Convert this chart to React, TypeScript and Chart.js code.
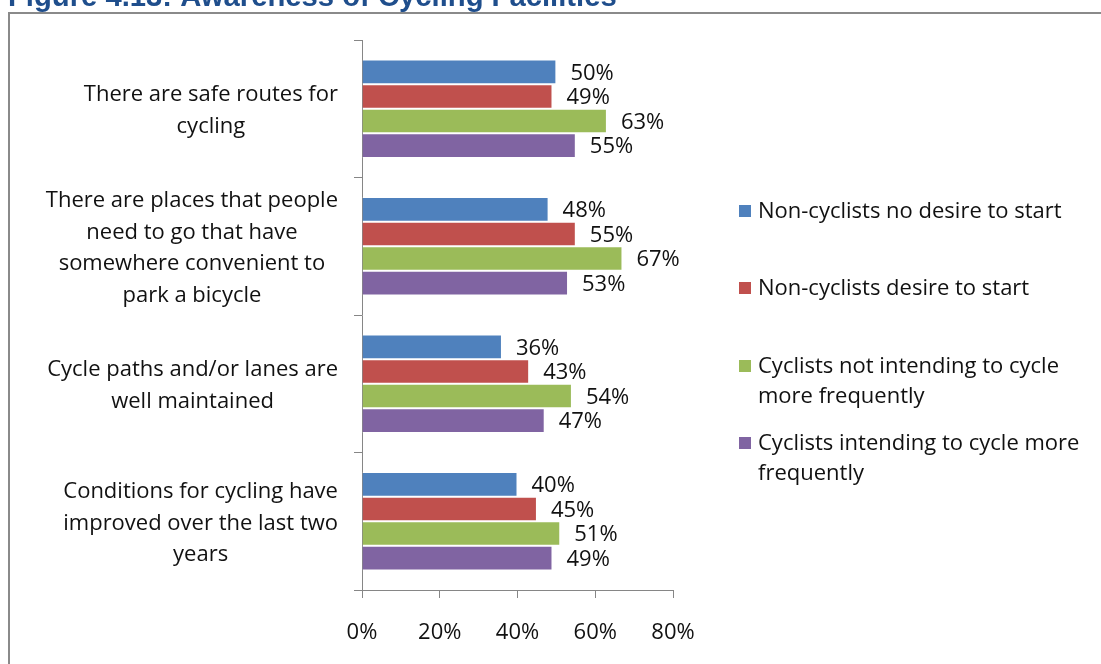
import React, { useEffect, useRef } from "react";
import { Chart, registerables } from "chart.js";

Chart.register(...registerables);

const categories: string[][] = [
  ["There are safe routes for", "cycling"],
  ["There are places that people", "need to go that have", "somewhere convenient to", "park a bicycle"],
  ["Cycle paths and/or lanes are", "well maintained"],
  ["Conditions for cycling have", "improved over the last two", "years"],
];

const seriesNames: string[][] = [
  ["Non-cyclists no desire to start"],
  ["Non-cyclists desire to start"],
  ["Cyclists not intending to cycle", "more frequently"],
  ["Cyclists intending to cycle more", "frequently"],
];

const nonCyclistsNoDesire = [50, 48, 36, 40];
const nonCyclistsDesire = [49, 55, 43, 45];
const cyclistsNotIntending = [63, 67, 54, 51];
const cyclistsIntending = [55, 53, 47, 49];

const seriesColors = ["#4F81BD", "#C0504D", "#9BBB59", "#8064A2"];

const xTicks = [0, 20, 40, 60, 80];

const titleText = "Figure 4.13: Awareness of Cycling Facilities";

const FONT = "'Open Sans', Lato, sans-serif";
const FS = 22;
const TEXT = "#111111";

export default function App() {
  const ref = useRef<HTMLCanvasElement | null>(null);

  useEffect(() => {
    const canvas = ref.current;
    if (!canvas) return;
    const seriesValues = [nonCyclistsNoDesire, nonCyclistsDesire, cyclistsNotIntending, cyclistsIntending];

    const framePlugin = {
      id: "frame",
      beforeDraw(chart: any) {
        const ctx = chart.ctx;
        ctx.save();
        ctx.fillStyle = "#ffffff";
        ctx.fillRect(0, 0, chart.width, chart.height);
        ctx.strokeStyle = "#8a8a8a";
        ctx.lineWidth = 2;
        ctx.beginPath();
        ctx.moveTo(9, chart.height + 5);
        ctx.lineTo(9, 13);
        ctx.lineTo(chart.width + 5, 13);
        ctx.stroke();
        ctx.fillStyle = "#1F4E8C";
        ctx.font = "bold 24px 'Liberation Sans', Arial, sans-serif";
        const w = ctx.measureText(titleText).width;
        const size = 24 * 609 / w;
        ctx.font = `bold ${size}px 'Liberation Sans', Arial, sans-serif`;
        ctx.textBaseline = "alphabetic";
        ctx.textAlign = "left";
        ctx.fillText(titleText, 8, 6);
        ctx.restore();
      },
    };

    const categoryLabelPlugin = {
      id: "categoryLabels",
      afterDraw(chart: any) {
        const ctx = chart.ctx;
        const yScale = chart.scales.y;
        const right = yScale.right - 24;
        const lh = 31.5;
        ctx.save();
        ctx.font = `${FS}px ${FONT}`;
        ctx.fillStyle = TEXT;
        ctx.textAlign = "center";
        ctx.textBaseline = "middle";
        categories.forEach((lines, i) => {
          const cy = yScale.getPixelForTick(i) + 2;
          const bw = Math.max(...lines.map((l) => ctx.measureText(l).width));
          const cx = right - bw / 2;
          const top = cy - ((lines.length - 1) * lh) / 2;
          lines.forEach((ln, k) => ctx.fillText(ln, cx, top + k * lh));
        });
        ctx.restore();
      },
    };

    const labelPlugin = {
      id: "valueLabels",
      afterDatasetsDraw(chart: any) {
        const ctx = chart.ctx;
        ctx.save();
        ctx.font = `${FS}px ${FONT}`;
        ctx.fillStyle = TEXT;
        ctx.textAlign = "left";
        ctx.textBaseline = "middle";
        chart.data.datasets.forEach((ds: any, i: number) => {
          const meta = chart.getDatasetMeta(i);
          meta.data.forEach((bar: any, j: number) => {
            ctx.fillText(ds.data[j] + "%", bar.x + 14, bar.y + 1.5);
          });
        });
        ctx.restore();
      },
    };

    const legendPlugin = {
      id: "customLegend",
      afterDraw(chart: any) {
        const ctx = chart.ctx;
        ctx.save();
        ctx.font = `${FS}px ${FONT}`;
        ctx.textAlign = "left";
        ctx.textBaseline = "middle";
        const starts = [212, 289, 367, 444];
        seriesNames.forEach((lines, i) => {
          const y = starts[i];
          ctx.fillStyle = seriesColors[i];
          ctx.fillRect(739, y - 7, 12, 12);
          ctx.fillStyle = TEXT;
          lines.forEach((ln, k) => {
            ctx.fillText(ln, 758, y + k * 30);
          });
        });
        ctx.restore();
      },
    };

    const chart = new Chart(canvas, {
      type: "bar",
      data: {
        labels: categories,
        datasets: seriesValues.map((vals, i) => ({
          label: seriesNames[i].join(" "),
          data: vals,
          backgroundColor: seriesColors[i],
          borderColor: "rgba(255,255,255,0.55)",
          borderWidth: 1,
          categoryPercentage: 0.715,
          barPercentage: 1,
        })),
      },
      options: {
        indexAxis: "y",
        responsive: false,
        animation: false,
        layout: { padding: { left: 0, top: 40, right: 1101 - 673, bottom: 0 } },
        plugins: {
          legend: { display: false },
          tooltip: { enabled: false },
          title: { display: false },
        },
        scales: {
          x: {
            type: "linear",
            position: "bottom",
            min: xTicks[0],
            max: xTicks[xTicks.length - 1],
            afterBuildTicks: (s: any) => {
              s.ticks = xTicks.map((v) => ({ value: v }));
            },
            afterFit: (s: any) => {
              s.height = 74;
              s.paddingLeft = 0;
              s.paddingRight = 0;
            },
            grid: {
              drawOnChartArea: false,
              drawTicks: true,
              tickLength: 8,
              color: "#868686",
            },
            border: { color: "#868686", width: 1 },
            ticks: {
              callback: (v: any) => v + "%",
              font: { family: FONT, size: FS },
              color: TEXT,
              padding: 22,
              maxRotation: 0,
            },
          },
          y: {
            type: "category",
            afterFit: (s: any) => {
              s.width = 362;
              s.paddingTop = 0;
              s.paddingBottom = 0;
            },
            grid: {
              offset: true,
              drawOnChartArea: false,
              drawTicks: true,
              tickLength: 8,
              color: "#868686",
            },
            border: { color: "#868686", width: 1 },
            ticks: {
              crossAlign: "center",
              padding: 17,
              font: { family: FONT, size: FS, lineHeight: 1.43 },
              color: "rgba(0,0,0,0)",
            },
          },
        },
      },
      plugins: [framePlugin, labelPlugin, legendPlugin, categoryLabelPlugin],
    } as any);

    return () => chart.destroy();
  }, []);

  return (
    <div style={{ position: "absolute", left: 0, top: 0, width: 1101, height: 664, background: "#fff" }}>
      <canvas ref={ref} width={1101} height={664} style={{ display: "block" }} />
    </div>
  );
}
